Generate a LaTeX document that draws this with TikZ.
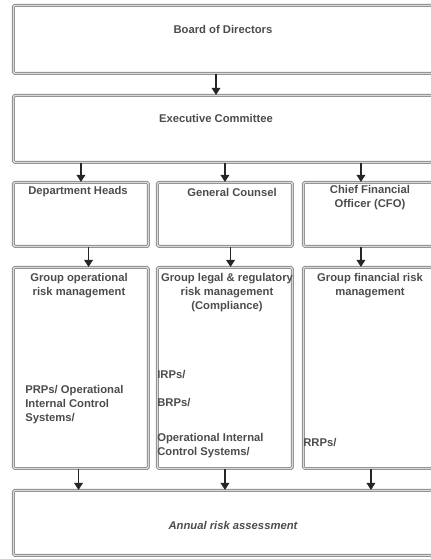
\documentclass[tikz,border=0pt]{standalone}
\usepackage{fontspec}
\setmainfont{Liberation Sans}
\usetikzlibrary{arrows.meta}

\begin{document}
\begin{tikzpicture}[x=0.025cm, y=-0.025cm,
    panel/.style={draw=gray!90, double=gray!30, double distance=0.9pt, line width=0.6pt,
        rounded corners=1pt, anchor=north west, inner sep=0pt},
    lbl/.style={font=\fontsize{8}{10}\selectfont\bfseries, text=gray!60!black, align=center},
    side/.style={lbl, align=left, anchor=west, inner sep=0pt},
    arr/.style={-{Triangle[length=5pt, width=6pt]}, line width=1.2pt, black!85}]
    \useasboundingbox (0, 0) rectangle (431, 559);
    % Khung trên cùng
    \node[panel, minimum width=10.5cm, minimum height=1.7cm] (board) at (13, 5) {};
    \node[lbl] (boardtxt) at (223, 29) {Board of Directors};
    \node[panel, minimum width=10.5cm, minimum height=1.675cm] (exec) at (13, 95) {};
    \node[lbl] (exectxt) at (216, 118) {Executive Committee};
    % Hàng giữa
    \node[panel, minimum width=3.375cm, minimum height=1.6cm] (dh) at (13, 182) {};
    \node[lbl] (dhtxt) at (78, 192) {Department Heads};
    \node[panel, minimum width=3.375cm, minimum height=1.6cm] (gc) at (157, 182) {};
    \node[lbl] (gctxt) at (232, 192) {General Counsel};
    \node[panel, minimum width=3.375cm, minimum height=1.6cm] (cfo) at (303, 182) {};
    \node[lbl] (cfotxt) at (370, 198) {Chief Financial\\Officer (CFO)};
    % Hàng dưới
    \node[panel, minimum width=3.375cm, minimum height=5.025cm] (opr) at (13, 267) {};
    \node[lbl] (oprtxt) at (79, 286) {Group operational\\risk management};
    \node[side] (oprsys) at (25, 405) {PRPs/ Operational\\Internal Control\\Systems/};
    \node[panel, minimum width=3.375cm, minimum height=5.025cm] (leg) at (157, 267) {};
    \node[lbl] (legtxt) at (227, 293) {Group legal \& regulatory\\risk management\\(Compliance)};
    \node[side] (legirp) at (157, 375) {IRPs/};
    \node[side] (legbrp) at (157, 403) {BRPs/};
    \node[side] (legsys) at (157, 446) {Operational Internal\\Control Systems/};
    \node[panel, minimum width=3.375cm, minimum height=5.025cm] (fin) at (303, 267) {};
    \node[lbl] (fintxt) at (370, 286) {Group financial risk\\management};
    \node[side] (finrrp) at (303, 443) {RRPs/};
    % Khung cuối
    \node[panel, minimum width=10.675cm, minimum height=1.625cm] (annual) at (13, 490) {};
    \node[lbl, font=\fontsize{8}{10}\selectfont\bfseries\itshape] (annualtxt) at (233, 525) {Annual risk assessment};
    % Mũi tên
    \draw[arr] (board.south -| exectxt) -- (exec.north -| exectxt);
    \draw[arr] (exec.south -| dh.north) -- (dh.north);
    \draw[arr] (exec.south -| gc.north) -- (gc.north);
    \draw[arr] ([xshift=-0.25cm]exec.south -| cfo.north) -- ([xshift=-0.25cm]cfo.north);
    \draw[arr] ([xshift=0.19cm]dh.south) -- ([xshift=0.19cm]opr.north);
    \draw[arr] ([xshift=0.14cm]gc.south) -- ([xshift=0.14cm]leg.north);
    \draw[arr] ([xshift=-0.25cm]cfo.south) -- ([xshift=-0.25cm]fin.north);
    \draw[arr] ([xshift=-0.06cm]opr.south) -- ([xshift=-0.06cm]opr.south |- annual.north);
    \draw[arr] (leg.south) -- (leg.south |- annual.north);
    \draw[arr] (fin.south) -- (fin.south |- annual.north);
\end{tikzpicture}
\end{document}
